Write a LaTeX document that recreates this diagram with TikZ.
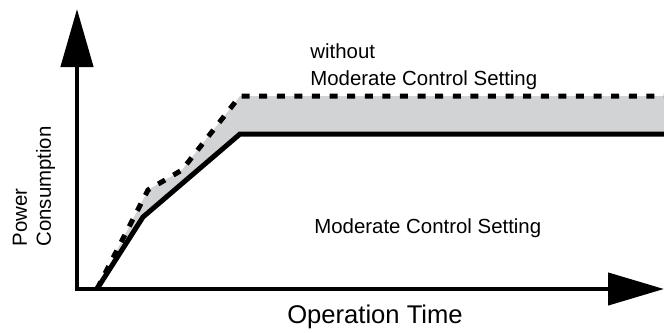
\documentclass[tikz,border=0pt]{standalone}
\usepackage{fontspec}
\setsansfont{Liberation Sans}
\usetikzlibrary{arrows.meta}
\definecolor{bandgray}{RGB}{209,211,212}

\begin{document}
\begin{tikzpicture}[x=0.5pt,y=-0.5pt,
		axis line/.style={line width=2.2pt,{Triangle[length=29pt,width=16pt]}-{Triangle[length=28pt,width=16pt]}},
		plain curve/.style={line width=2.5pt,line join=miter},
		dash curve/.style={line width=2.5pt,dash pattern=on 4pt off 4.8pt},
		label text/.style={font=\sffamily\fontsize{10.2}{12}\selectfont,inner sep=0pt}]

		\useasboundingbox (0,0) rectangle (664,332);

		\coordinate (O) at (77,289);
		\coordinate (ytop) at (77,9);
		\coordinate (xend) at (664,289);

		% band between the two curves
		\fill[bandgray] (97,289) -- (148,190) -- (182,170) -- (240,96) -- (664,96)
			-- (664,134) -- (240,134) -- (143,217) -- cycle;

		\draw[plain curve] (97,289) -- (143,217) -- (240,134) -- (666,134);
		\draw[dash curve] (97,289) -- (148,190) -- (182,170) -- (240,96) -- (666,96);

		\draw[axis line] (ytop) -- (O) -- (xend);

		\node[label text,anchor=base west] (without) at (310,58) {without};
		\node[label text,anchor=base west] (upper) at (310,85) {Moderate Control Setting};
		\node[label text,anchor=base west] (lower) at (314,233) {Moderate Control Setting};
		\node[label text,font=\sffamily\fontsize{12.8}{14}\selectfont,anchor=base] (time) at (375,323) {Operation Time};
		\node[label text,rotate=90,align=left,anchor=west] (power) at (34,247) {Power\\Consumption};
\end{tikzpicture}
\end{document}
